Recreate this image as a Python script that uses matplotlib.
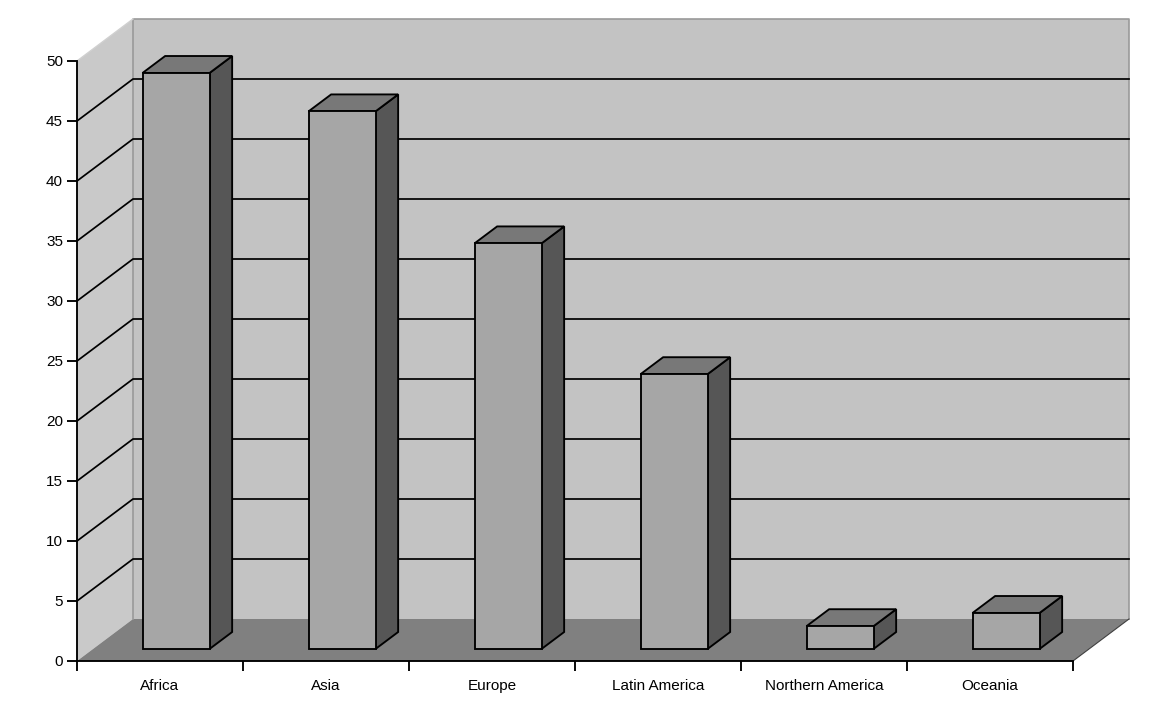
#!/usr/bin/env python3
"""Excel style 3D column chart, regions by value."""

import matplotlib
matplotlib.use("Agg")
import matplotlib.pyplot as plt
from matplotlib.ticker import FixedLocator, NullFormatter, FixedFormatter

regions = ["Africa", "Asia", "Europe", "Latin America", "Northern America", "Oceania"]
values = [48.0, 44.8, 33.8, 22.9, 1.9, 3.0]
y_ticks = [0, 5, 10, 15, 20, 25, 30, 35, 40, 45, 50]

# pixel scale of the front plane
PX_X = 1 / 166.0
PX_Y = 1 / 12.0

# full depth of the box, data units
DEPTH_X = 56 * PX_X
DEPTH_Y = 42 * PX_Y

# bar layout
BAR_W = 67 * PX_X
BAR_LEFT = 49.5 * PX_X
BAR_D0 = 12 / 42
BAR_D1 = 0.69

WALL = "#c3c3c3"
SIDE_WALL = "#c9c9c9"
FLOOR = "#808080"
EDGE_GRAY = "#9a9a9a"
BAR_FRONT = "#a6a6a6"
BAR_TOP = "#787878"
BAR_SIDE = "#565656"


def at_depth(x, y, d):
    """Shift a front plane point d (0..1) into the box."""
    return x + d * DEPTH_X, y + d * DEPTH_Y


def face(ax, pts, color, edge="none", lw=0, z=1):
    xs = [p[0] for p in pts]
    ys = [p[1] for p in pts]
    ax.fill(xs, ys, facecolor=color, edgecolor=edge, linewidth=lw, zorder=z,
            clip_on=False, joinstyle="miter")


def draw_box(ax):
    n = len(regions)
    top = y_ticks[-1]

    # back wall, side wall, floor
    face(ax, [at_depth(0, 0, 1), at_depth(n, 0, 1), at_depth(n, top, 1), at_depth(0, top, 1)], WALL)
    face(ax, [(0, 0), at_depth(0, 0, 1), at_depth(0, top, 1), (0, top)], SIDE_WALL)
    face(ax, [(0, 0), (n, 0), at_depth(n, 0, 1), at_depth(0, 0, 1)], FLOOR)

    # gray outline of the walls
    outline = [at_depth(0, 0, 1), at_depth(0, top, 1), at_depth(n, top, 1), at_depth(n, 0, 1)]
    ax.plot([p[0] for p in outline], [p[1] for p in outline], color=EDGE_GRAY, lw=1.2,
            zorder=2, clip_on=False)
    ax.plot([0, at_depth(0, top, 1)[0]], [top, at_depth(0, top, 1)[1]], color="#d0d0d0", lw=1.0,
            zorder=2, clip_on=False)

    # gridlines on both walls
    for v in y_ticks[1:-1]:
        back_l = at_depth(0, v, 1)
        back_r = at_depth(n, v, 1)
        ax.plot([0, back_l[0], back_r[0]], [v, back_l[1], back_r[1]], color="black", lw=1.25,
                zorder=3, clip_on=False)

    # floor front right edge
    far = at_depth(n, 0, 1)
    ax.plot([n, far[0]], [0, far[1]], color="#404040", lw=0.8, zorder=3, clip_on=False)


def draw_bars(ax):
    for i, v in enumerate(values):
        x0 = i + BAR_LEFT
        x1 = x0 + BAR_W
        front = [at_depth(x0, 0, BAR_D0), at_depth(x1, 0, BAR_D0),
                 at_depth(x1, v, BAR_D0), at_depth(x0, v, BAR_D0)]
        side = [at_depth(x1, 0, BAR_D0), at_depth(x1, 0, BAR_D1),
                at_depth(x1, v, BAR_D1), at_depth(x1, v, BAR_D0)]
        lid = [at_depth(x0, v, BAR_D0), at_depth(x1, v, BAR_D0),
               at_depth(x1, v, BAR_D1), at_depth(x0, v, BAR_D1)]
        z = 4 + i
        face(ax, side, BAR_SIDE, "black", 1.35, z)
        face(ax, lid, BAR_TOP, "black", 1.35, z)
        face(ax, front, BAR_FRONT, "black", 1.35, z)


def main():
    fig = plt.figure(figsize=(11.71, 7.17), dpi=100)
    ax = fig.add_axes([77 / 1171, 1 - 661 / 717, 996 / 1171, 600 / 717])
    ax.patch.set_visible(False)
    ax.set_xlim(0, len(regions))
    ax.set_ylim(0, y_ticks[-1])

    for name in ("top", "right"):
        ax.spines[name].set_visible(False)
    for name in ("left", "bottom"):
        ax.spines[name].set_linewidth(1.35)
        ax.spines[name].set_zorder(20)

    draw_box(ax)
    draw_bars(ax)

    ax.set_yticks(y_ticks)
    ax.tick_params(axis="y", length=7, width=1.35, pad=3, labelsize=11)
    for lab in ax.get_yticklabels():
        lab.set_family("Liberation Sans")

    # ticks between the categories, labels in the middle
    ax.xaxis.set_major_locator(FixedLocator(range(len(regions) + 1)))
    ax.xaxis.set_major_formatter(NullFormatter())
    ax.xaxis.set_minor_locator(FixedLocator([i + 0.5 for i in range(len(regions))]))
    ax.xaxis.set_minor_formatter(FixedFormatter(regions))
    ax.tick_params(axis="x", which="major", length=7, width=1.35)
    ax.tick_params(axis="x", which="minor", length=0, pad=13, labelsize=11)
    for lab in ax.get_xticklabels(minor=True):
        lab.set_family("Liberation Sans")

    fig.savefig("out.png", dpi=100, facecolor="white")


if __name__ == "__main__":
    main()
